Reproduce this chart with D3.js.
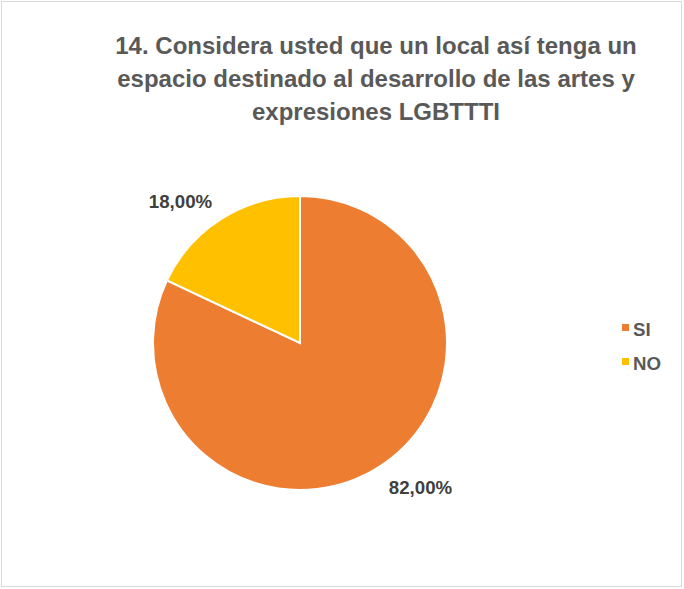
<!DOCTYPE html>
<html lang="es">
<head>
<meta charset="utf-8">
<script src="https://d3js.org/d3.v7.min.js"></script>
<style>
  body { margin: 0; background: #fff; }
  text { font-family: "Liberation Sans", Arial, sans-serif; font-weight: bold; }
</style>
</head>
<body>
<script>
// chart data
var categories = ["SI", "NO"];
var values = [82, 18];
var valueLabels = ["82,00%", "18,00%"];
var colors = ["#ED7D31", "#FFC000"];
var titleLines = [
  "14. Considera usted que un local así tenga un",
  "espacio destinado al desarrollo de las artes y",
  "expresiones LGBTTTI"
];

var width = 684, height = 589;
var cx = 300, cy = 343, radius = 147;

var svg = d3.select("body").append("svg")
  .attr("width", width)
  .attr("height", height);

// outer frame
svg.append("rect")
  .attr("x", 1.5).attr("y", 1.5)
  .attr("width", width - 4).attr("height", height - 4)
  .attr("fill", "#fff")
  .attr("stroke", "#d9d9d9")
  .attr("stroke-width", 1);

// title
svg.append("text")
  .attr("x", 376)
  .attr("y", 54)
  .attr("text-anchor", "middle")
  .attr("fill", "#595959")
  .style("font-size", "24px")
  .selectAll("tspan")
  .data(titleLines)
  .enter().append("tspan")
  .attr("x", 376)
  .attr("dy", function(d, i) { return i ? 33 : 0; })
  .text(function(d) { return d; });

var pie = d3.pie().sort(null).value(function(d) { return d; });
var arc = d3.arc().innerRadius(0).outerRadius(radius);

var g = svg.append("g").attr("transform", "translate(" + cx + "," + cy + ")");

var arcs = pie(values);

g.selectAll("path")
  .data(arcs)
  .enter().append("path")
  .attr("d", arc)
  .attr("fill", function(d, i) { return colors[i]; })
  .attr("stroke", "#fff")
  .attr("stroke-width", 2);

// data labels outside the pie (nudged like excel's best fit)
var labelArc = d3.arc().innerRadius(radius + 35).outerRadius(radius + 35);
var labelOffset = [[23, -9], [-22, 12]];
g.selectAll("text.lbl")
  .data(arcs)
  .enter().append("text")
  .attr("class", "lbl")
  .attr("transform", function(d, i) {
    var c = labelArc.centroid(d);
    return "translate(" + (c[0] + labelOffset[i][0]) + "," + (c[1] + labelOffset[i][1]) + ")";
  })
  .attr("dy", "0.35em")
  .attr("text-anchor", "middle")
  .attr("fill", "#404040")
  .style("font-size", "18.7px")
  .text(function(d, i) { return valueLabels[i]; });

// legend
var legend = svg.append("g").attr("transform", "translate(622,324)");
var item = legend.selectAll("g")
  .data(categories)
  .enter().append("g")
  .attr("transform", function(d, i) { return "translate(0," + (i * 34) + ")"; });
item.append("rect")
  .attr("width", 7).attr("height", 7)
  .attr("fill", function(d, i) { return colors[i]; });
item.append("text")
  .attr("x", 11)
  .attr("y", 12)
  .attr("fill", "#595959")
  .style("font-size", "18.7px")
  .text(function(d) { return d; });
</script>
</body>
</html>
